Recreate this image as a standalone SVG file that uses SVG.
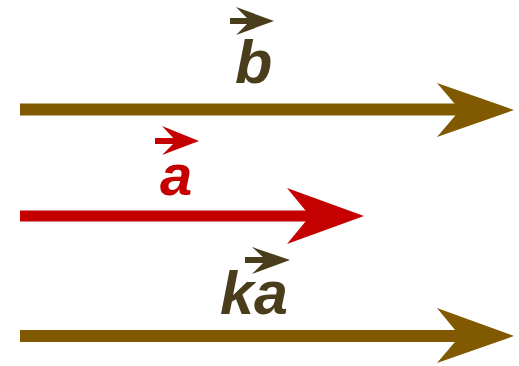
<svg xmlns="http://www.w3.org/2000/svg" width="519" height="366" viewBox="0 0 519 366">
<style>
.lbl{font-family:"Liberation Sans",Arial,sans-serif;font-weight:bold;font-style:italic}
.brown{fill:#805900}
.red{fill:#c40000}
.dark{fill:#4a3d1c}
</style>
<rect width="519" height="366" fill="#ffffff"/>
<g id="connectors">
<g id="vec-b">
<rect class="brown" x="20" y="103.5" width="440" height="12"/>
<polygon class="brown" points="514,110 437,83 460,110 437,137"/>
</g>
<g id="vec-a">
<rect class="red" x="20" y="210.5" width="292" height="11"/>
<polygon class="red" points="364,216 287,188 310,216 287,244"/>
</g>
<g id="vec-ka">
<rect class="brown" x="20" y="330" width="440" height="12"/>
<polygon class="brown" points="514,336 437,308 460,336 437,363"/>
</g>
</g>
<g id="label-b">
<rect class="dark" x="230" y="18" width="22" height="6"/>
<polygon class="dark" points="274,21 236,7 250,21 236,35"/>
<text class="lbl dark" x="235" y="83" font-size="61">b</text>
</g>
<g id="label-a">
<rect class="red" x="155" y="138" width="24" height="6"/>
<polygon class="red" points="199,141 162,126 176,141 162,155"/>
<text class="lbl red" x="160" y="195" font-size="58">a</text>
</g>
<g id="label-ka">
<rect class="dark" x="245" y="257" width="24" height="6"/>
<polygon class="dark" points="290,260 252,247 266,260 252,274"/>
<text class="lbl dark" x="220" y="314" font-size="61">ka</text>
</g>
</svg>
